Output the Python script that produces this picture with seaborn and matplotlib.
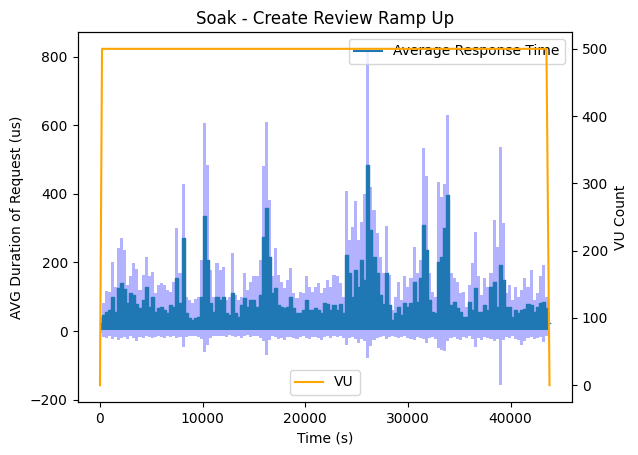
import matplotlib
matplotlib.use('Agg')
import matplotlib.pyplot as plt
import seaborn as sns
import numpy as np
import pandas as pd

# values, one bin every 300 s
bin_step = 300
mean_peak = [22, 47, 56, 61, 100, 56, 125, 139, 122, 81,
             110, 105, 79, 66, 90, 128, 71, 100, 56, 66,
             71, 61, 52, 76, 71, 154, 81, 270, 52, 37,
             32, 37, 42, 100, 334, 207, 81, 56, 100, 90,
             100, 52, 47, 110, 52, 42, 76, 95, 71, 90,
             90, 71, 105, 275, 358, 217, 110, 125, 76, 71,
             66, 71, 100, 66, 52, 52, 61, 90, 61, 61,
             66, 61, 52, 81, 79, 61, 76, 61, 80, 52,
             222, 168, 100, 178, 129, 207, 150, 485, 295, 217,
             168, 105, 80, 168, 76, 32, 52, 71, 47, 81,
             71, 81, 144, 86, 154, 309, 236, 90, 56, 52,
             202, 217, 300, 397, 76, 86, 66, 54, 42, 42,
             86, 61, 125, 56, 56, 76, 61, 129, 144, 71,
             193, 150, 71, 71, 42, 61, 52, 61, 63, 79,
             76, 54, 71, 81, 86, 66, 22]
mean_floor = 4

band_peak = [42, 81, 118, 115, 200, 129, 241, 270, 236, 134,
             159, 197, 180, 120, 163, 216, 159, 173, 110, 134,
             141, 134, 120, 115, 144, 300, 168, 429, 100, 90,
             81, 92, 100, 207, 606, 485, 178, 100, 198, 178,
             188, 90, 100, 227, 105, 90, 100, 168, 120, 144,
             159, 159, 207, 480, 611, 382, 159, 241, 163, 144,
             124, 149, 183, 110, 95, 115, 110, 159, 129, 115,
             129, 139, 110, 124, 149, 129, 163, 159, 139, 100,
             407, 266, 304, 378, 266, 319, 400, 823, 421, 353,
             285, 217, 168, 305, 163, 61, 100, 144, 90, 159,
             129, 154, 246, 168, 207, 533, 451, 168, 115, 100,
             436, 392, 430, 630, 168, 154, 144, 110, 115, 71,
             134, 198, 290, 159, 105, 154, 129, 168, 324, 246,
             538, 315, 110, 134, 90, 129, 100, 120, 154, 129,
             178, 90, 110, 159, 193, 100, 22]

band_low = [-5, -18, -20, -15, -22, -18, -26, -20, -18, -22,
            -15, -20, -28, -18, -20, -15, -18, -20, -17, -15,
            -18, -20, -14, -18, -15, -20, -18, -46, -18, -15,
            -14, -16, -18, -22, -60, -40, -20, -15, -14, -16,
            -15, -18, -12, -15, -18, -14, -20, -15, -12, -18,
            -15, -14, -20, -30, -70, -25, -15, -18, -22, -20,
            -26, -18, -17, -20, -24, -18, -16, -20, -22, -18,
            -17, -20, -25, -18, -16, -20, -15, -18, -14, -20,
            -40, -20, -18, -22, -36, -22, -30, -80, -45, -25,
            -20, -18, -15, -22, -18, -15, -17, -20, -18, -16,
            -20, -22, -25, -18, -20, -24, -36, -20, -18, -22,
            -50, -55, -58, -30, -20, -18, -22, -25, -18, -20,
            -16, -22, -46, -20, -25, -18, -20, -22, -30, -24,
            -158, -25, -18, -20, -16, -22, -25, -41, -28, -20,
            -18, -22, -20, -18, -31, -15, -5]

vu_time = [0, 200, 43500, 43800]
vu_count = [0, 500, 500, 0]

time_s = np.arange(len(mean_peak)) * bin_step
df = pd.DataFrame({'time': time_s, 'avg': mean_peak})

fig, ax1 = plt.subplots(figsize=(6.38, 4.55), dpi=100)
fig.subplots_adjust(left=77.5 / 638, right=572 / 638, top=1 - 32 / 455, bottom=1 - 402 / 455)

# spread band (light) and the filled body of the mean (dark)
ax1.fill_between(time_s, band_low, band_peak, step='mid', color='blue', alpha=0.3, linewidth=0)
ax1.fill_between(time_s, mean_floor, mean_peak, step='mid', color='C0', linewidth=0)
sns.lineplot(data=df, x='time', y='avg', ax=ax1, estimator=None, drawstyle='steps-mid',
             linewidth=1.0, label='Average Response Time')
ax1.set_xlabel('Time (s)')
ax1.set_ylabel('AVG Duration of Request (us)')
ax1.set_title('Soak - Create Review Ramp Up')
leg = ax1.legend(loc='upper right')
for h in leg.get_lines():
    h.set_linewidth(1.5)

ax2 = ax1.twinx()
sns.lineplot(x=vu_time, y=vu_count, ax=ax2, color='orange', label='VU')
ax2.set_ylabel('VU Count')
ax2.legend(loc='lower center')

fig.savefig('out.png', dpi=100)
